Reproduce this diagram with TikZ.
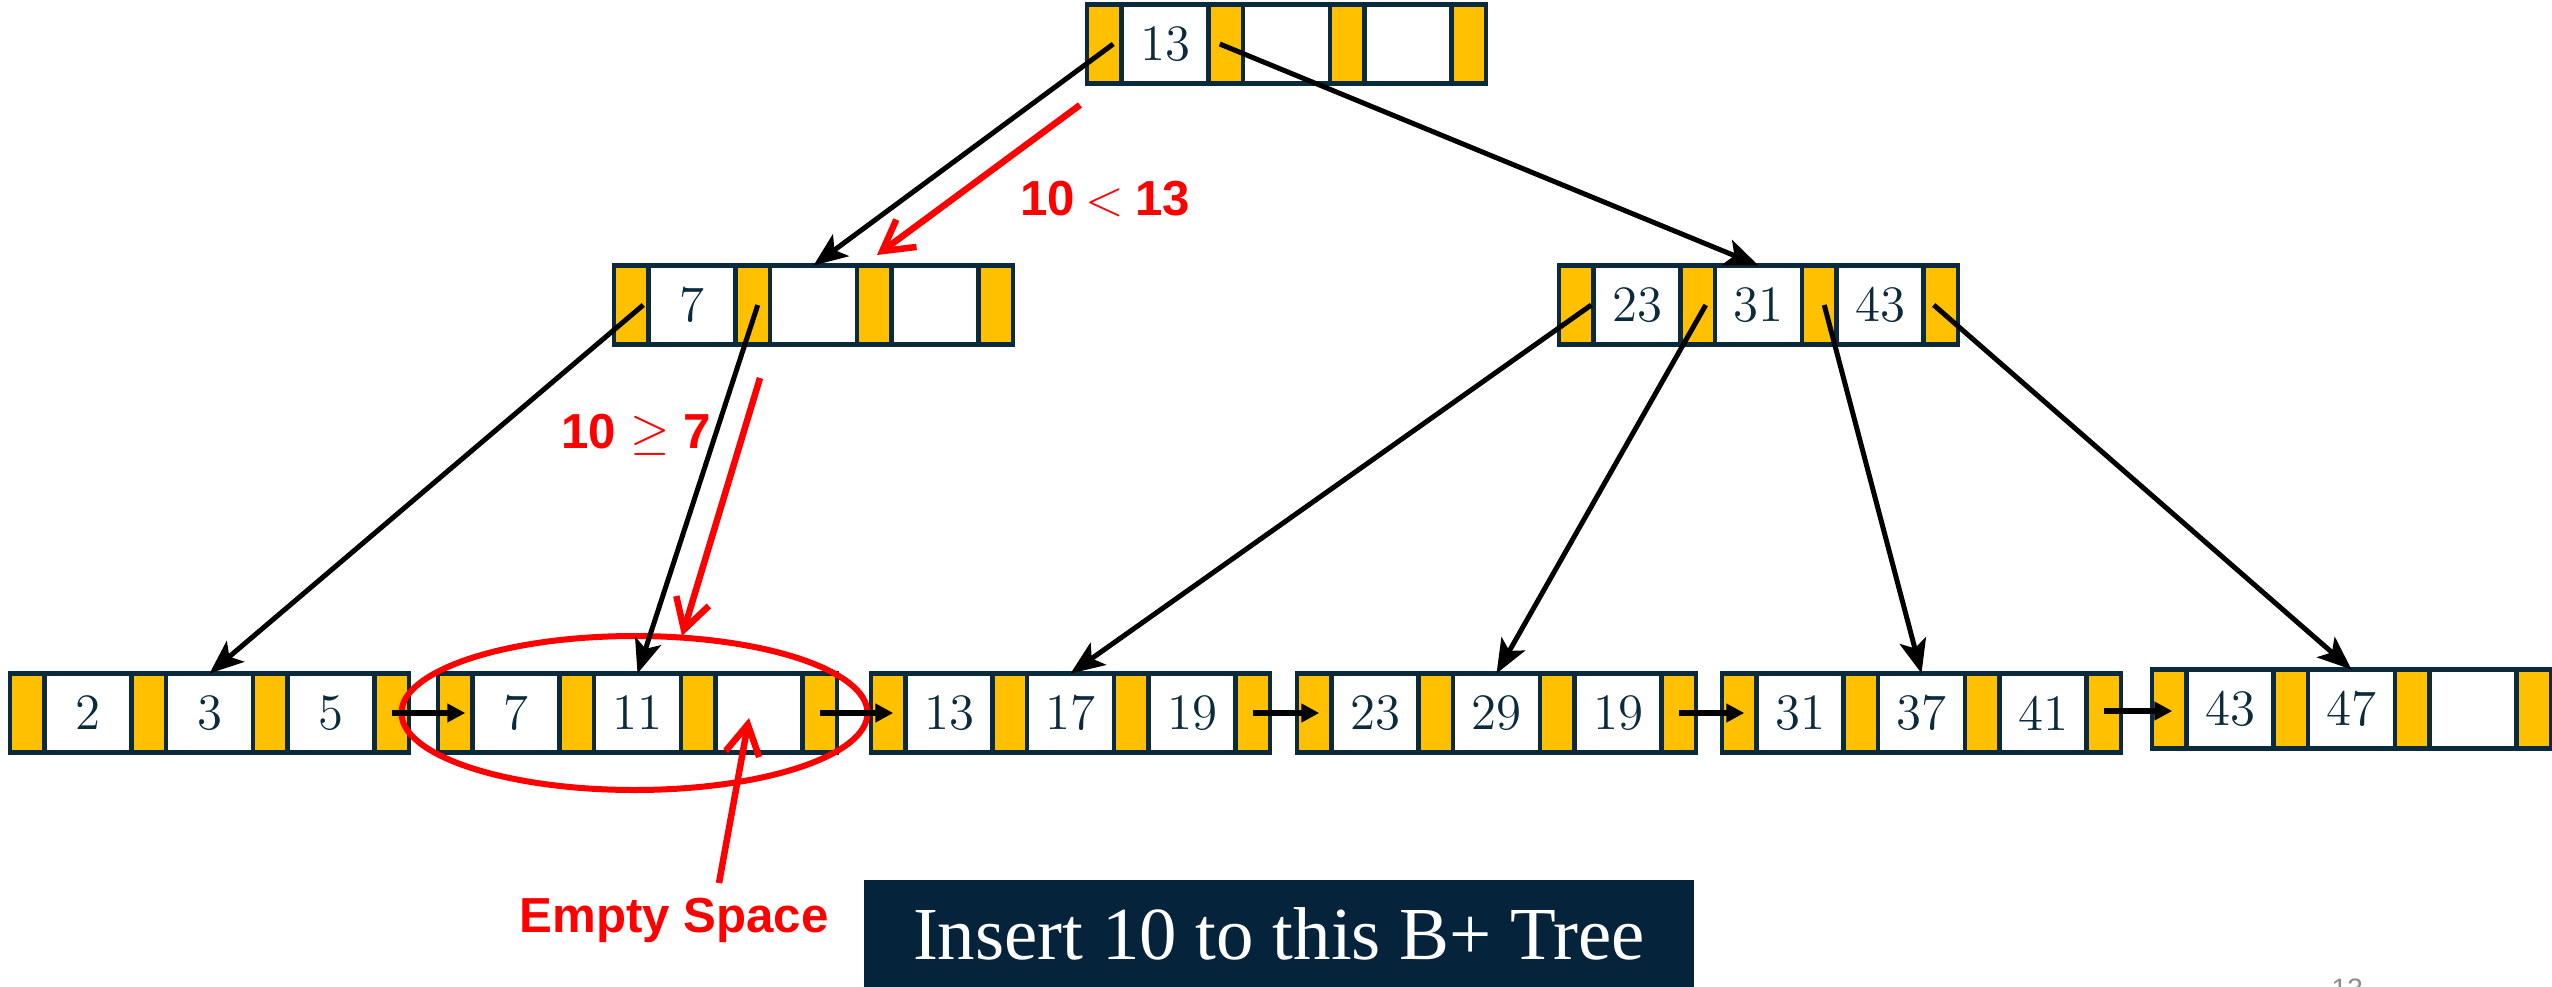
\documentclass[tikz,border=0pt]{standalone}
\usepackage{fontspec}
\newfontfamily\labelsans{Liberation Sans}
\newfontfamily\capserif{Liberation Serif}
\usetikzlibrary{arrows.meta,calc,shapes.geometric}

\definecolor{inkblue}{HTML}{0B2A3C}
\definecolor{ptrgold}{HTML}{FFC000}
\definecolor{banner}{HTML}{05233A}
\definecolor{pagegray}{HTML}{8C8C8C}

\tikzset{
  ptr/.style={draw=inkblue, fill=ptrgold, line width=0.42mm,
    minimum width=3.45mm, minimum height=7.9mm, inner sep=0pt,
    outer sep=0pt, anchor=west},
  keybox/.style={ptr, fill=white, minimum width=8.7mm, text=inkblue,
    font=\fontsize{14.5}{16}\selectfont},
  treeedge/.style={line width=0.5mm,
    -{Stealth[length=3.4mm,width=2.7mm,inset=0.8mm]}},
  leaflink/.style={line width=0.55mm, -{Triangle[length=1.8mm,width=1.8mm]}},
  hint/.style={red, line width=0.65mm,
    -{Straight Barb[length=3mm,width=3.4mm]}},
  hinttext/.style={text=red, inner sep=0pt, anchor=base,
    font=\labelsans\bfseries\fontsize{14}{16}\selectfont},
}

% one B+ tree node: pointer, key, pointer, key, pointer, key, pointer
% #1 name, #2 left x, #3 centre y, #4-#6 keys
\newcommand{\bplusnode}[6]{%
  \node[ptr] (#1-p0) at (#2,#3) {};
  \node[keybox] (#1-k1) at (#1-p0.east) {#4};
  \node[ptr] (#1-p1) at (#1-k1.east) {};
  \node[keybox] (#1-k2) at (#1-p1.east) {#5};
  \node[ptr] (#1-p2) at (#1-k2.east) {};
  \node[keybox] (#1-k3) at (#1-p2.east) {#6};
  \node[ptr] (#1-p3) at (#1-k3.east) {};
}

\begin{document}
\begin{tikzpicture}[x=0.1mm, y=-0.1mm]
\useasboundingbox (0,0) rectangle (2552,986);

% root and inner level
\bplusnode{root}{1087}{44}{13}{}{}
\bplusnode{ia}{614}{305}{7}{}{}
\bplusnode{ib}{1559}{305}{23}{31}{43}

% leaf level
\bplusnode{la}{10}{713}{2}{3}{5}
\bplusnode{lb}{438}{713}{7}{11}{}
\bplusnode{lc}{871}{713}{13}{17}{19}
\bplusnode{ld}{1297}{713}{23}{29}{19}
\bplusnode{le}{1722}{713}{31}{37}{41}
\bplusnode{lf}{2152}{709}{43}{47}{}

% the leaf that receives the new key
\node[draw=red, line width=0.6mm, ellipse, minimum width=46.6mm,
  minimum height=15.4mm, inner sep=0pt] (target) at ($(lb-k2)+(-3,0)$) {};

% child pointers
\draw[treeedge] ($(root-p0)+(9,0)$) -- (ia-k2.north);
\draw[treeedge] ($(root-p1)+(-6,0)$) -- (ib-k2.north);
\draw[treeedge] ($(ia-p0)+(12,0)$) -- (la-k2.north);
\draw[treeedge] ($(ia-p1)+(5,0)$) -- (lb-k2.north);
\draw[treeedge] ($(ib-p0)+(15,0)$) -- (lc-k2.north);
\draw[treeedge] ($(ib-p1)+(8,0)$) -- (ld-k2.north);
\draw[treeedge] ($(ib-p2)+(5,0)$) -- (le-k2.north);
\draw[treeedge] ($(ib-p3)+(-7,0)$) -- (lf-k2.north);

% sibling links between leaves
\draw[leaflink] (la-p3.center) -- ($(lb-p0.center)+(10,0)$);
\draw[leaflink] (lb-p3.center) -- ($(lc-p0.center)+(5,0)$);
\draw[leaflink] (lc-p3.center) -- ($(ld-p0.center)+(5,0)$);
\draw[leaflink] (ld-p3.center) -- ($(le-p0.center)+(5,0)$);
\draw[leaflink] ($(le-p3.center)+(0,-2)$) -- ($(le-p3.center -| lf-p0.center)+(3,-2)$);

% search path annotations
\node[hinttext] (cmp1) at (1105,215) {10\hspace{0.22em}$<$\hspace{0.22em}13};
\node[hinttext] (cmp2) at (636,448) {10 $\geq$ 7};
\node[hinttext] (gap) at (674,932) {Empty Space};

\coordinate (h1s) at (1080,105);
\coordinate (h1e) at (877,255);
\coordinate (h2s) at (760,378);
\coordinate (h2e) at (682,636);
\coordinate (h3s) at (719,883);
\coordinate (h3e) at (749,718);
\draw[hint] (h1s) -- (h1e);
\draw[hint] (h2s) -- (h2e);
\draw[hint] (h3s) -- (h3e);

% title banner
\node[fill=banner, text=white, minimum width=83mm, minimum height=10.8mm,
  inner sep=0pt, anchor=north, font=\capserif\fontsize{21.3}{24}\selectfont]
  (title) at (1279,879) {Insert 10 to this B+ Tree};

% slide number
\node[anchor=base west, inner sep=0pt, text=pagegray,
  font=\labelsans\fontsize{8}{9}\selectfont] (pageno) at (2331,998) {13};
\end{tikzpicture}
\end{document}
